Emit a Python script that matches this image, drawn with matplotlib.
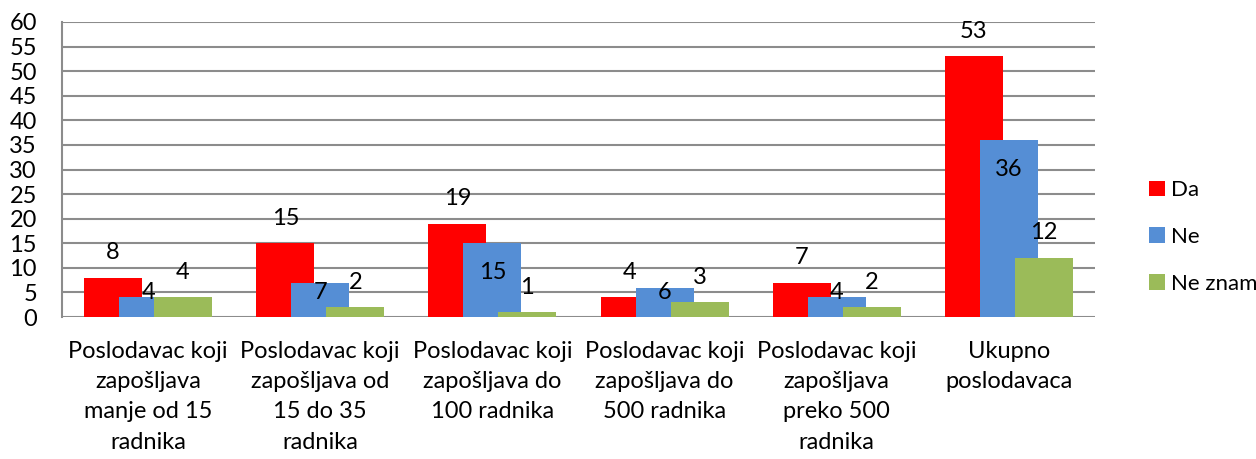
import matplotlib
matplotlib.use("Agg")
import matplotlib.pyplot as plt
import numpy as np

categories = [
    "Poslodavac koji\nzapošljava\nmanje od 15\nradnika",
    "Poslodavac koji\nzapošljava od\n15 do 35\nradnika",
    "Poslodavac koji\nzapošljava do\n100 radnika",
    "Poslodavac koji\nzapošljava do\n500 radnika",
    "Poslodavac koji\nzapošljava\npreko 500\nradnika",
    "Ukupno\nposlodavaca",
]
da = [8, 15, 19, 4, 7, 53]
ne = [4, 7, 15, 6, 4, 36]
ne_znam = [4, 2, 1, 3, 2, 12]
series_names = ["Da", "Ne", "Ne znam"]
colors = ["#FF0000", "#558ED5", "#9BBB59"]
yticks = list(range(0, 61, 5))

plt.rcParams['font.family'] = ['Lato', 'DejaVu Sans']
FS = 17

fig = plt.figure(figsize=(12.56, 4.59), dpi=100)
ax = fig.add_axes([62/1256, 1-317/459, (1095-62)/1256, (317-22)/459])

x = np.arange(len(categories))
width = 0.337
step = 0.203
grid_c = "#8C8C8C"

for yv in yticks:
    ax.axhline(yv, color=grid_c, lw=1.5, zorder=0)

handles = []
for i, (vals, name, c) in enumerate(zip([da, ne, ne_znam], series_names, colors)):
    xs = x + (i - 1) * step
    b = ax.bar(xs, vals, width=width, color=c, label=name, zorder=2 + i)
    handles.append(b)
    for xi, v in zip(xs, vals):
        if i == 1:
            ly = max(v - 6, 4.9)
            ax.text(xi, ly, str(v), ha='center', va='center', fontsize=FS, zorder=10)
        else:
            ax.annotate(str(v), (xi, v), xytext=(0, 25), textcoords='offset pixels',
                        ha='center', va='center', fontsize=FS, zorder=10)

ax.set_xlim(-0.5, len(categories) - 0.5)
ax.set_ylim(0, 60)
ax.set_yticks(yticks)
ax.set_yticklabels([str(t) for t in yticks], fontsize=FS)
ax.set_xticks(x)
ax.set_xticklabels(categories, fontsize=FS, linespacing=1.55)
ax.tick_params(axis='y', length=0, pad=18)
ax.tick_params(axis='x', length=0, pad=17)
for s in ['top', 'right', 'bottom']:
    ax.spines[s].set_visible(False)
ax.spines['left'].set_color(grid_c)
ax.spines['left'].set_linewidth(1.5)

leg = fig.legend(handles=handles, labels=series_names, loc='center left',
                 bbox_to_anchor=(1138/1256, 1-237/459), frameon=False,
                 fontsize=16, handlelength=0.7, handleheight=0.7,
                 handletextpad=0.3, labelspacing=1.2, borderpad=0)

fig.savefig("out.png", dpi=100)
